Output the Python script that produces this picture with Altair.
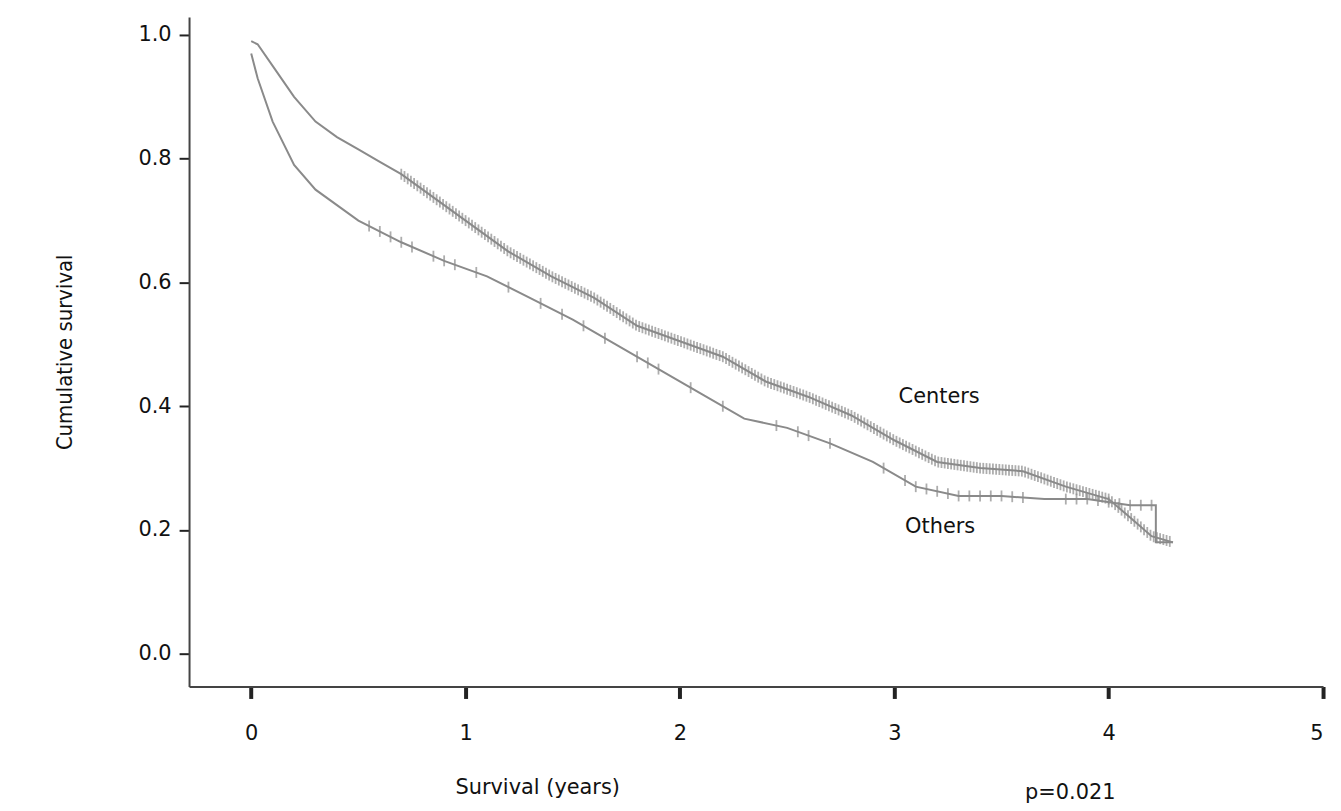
import numpy as np
import pandas as pd
import altair as alt

# Kaplan-Meier curves (years, cumulative survival)
centers_t = [0, 0.03, 0.1, 0.2, 0.3, 0.4, 0.5, 0.6, 0.7, 0.8, 0.9, 1.0, 1.2, 1.4, 1.6, 1.8, 2.0, 2.2,
             2.4, 2.6, 2.8, 3.0, 3.2, 3.4, 3.6, 3.8, 3.9, 4.0, 4.1, 4.2, 4.3]
centers_s = [0.99, 0.985, 0.95, 0.90, 0.86, 0.835, 0.815, 0.795, 0.775, 0.75, 0.725, 0.70, 0.65, 0.61,
             0.575, 0.53, 0.505, 0.48, 0.44, 0.415, 0.385, 0.345, 0.31, 0.30, 0.295, 0.27, 0.26, 0.25,
             0.22, 0.19, 0.18]
others_t = [0, 0.03, 0.1, 0.2, 0.3, 0.5, 0.7, 0.9, 1.1, 1.3, 1.5, 1.7, 1.9, 2.1, 2.3, 2.5, 2.7, 2.9,
            3.1, 3.3, 3.5, 3.7, 3.9, 4.1, 4.22, 4.22, 4.3]
others_s = [0.97, 0.93, 0.86, 0.79, 0.75, 0.70, 0.665, 0.635, 0.61, 0.575, 0.54, 0.50, 0.46, 0.42,
            0.38, 0.365, 0.34, 0.31, 0.27, 0.255, 0.255, 0.25, 0.25, 0.24, 0.24, 0.18, 0.18]

# censoring times (tick marks)
centers_cens = list(np.round(np.arange(0.7, 4.3, 0.015), 3))
others_cens = [0.55, 0.6, 0.65, 0.7, 0.75, 0.85, 0.9, 0.95, 1.05, 1.2, 1.35, 1.45, 1.55, 1.65, 1.8,
               1.85, 1.9, 2.05, 2.2, 2.45, 2.55, 2.6, 2.7, 2.95, 3.05, 3.1, 3.15, 3.2, 3.25, 3.3,
               3.35, 3.4, 3.45, 3.5, 3.55, 3.6, 3.8, 3.85, 3.9, 3.95, 4.0, 4.05, 4.1, 4.15, 4.2]

line_df = pd.concat([
    pd.DataFrame({"t": centers_t, "s": centers_s, "g": "Centers", "o": range(len(centers_t))}),
    pd.DataFrame({"t": others_t, "s": others_s, "g": "Others", "o": range(len(others_t))}),
])
cens_df = pd.concat([
    pd.DataFrame({"t": centers_cens, "s": np.interp(centers_cens, centers_t, centers_s)}),
    pd.DataFrame({"t": others_cens, "s": np.interp(others_cens, others_t[:24], others_s[:24])}),
])

xs = alt.Scale(domain=[-0.29, 5.0], nice=False, zero=False)
ys = alt.Scale(domain=[-0.053, 1.029], nice=False, zero=False)
F = "DejaVu Sans"

lines = alt.Chart(line_df).mark_line(color="#8a8a8a", strokeWidth=2).encode(
    x=alt.X("t:Q", scale=xs,
            axis=alt.Axis(values=[0, 1, 2, 3, 4, 5], format="d", title="Survival  (years)", tickSize=12,
                          tickWidth=4, tickColor="#222", labelPadding=24, labelFontSize=21,
                          titleFontSize=21, titlePadding=34, titleX=350, titleAlign="center",
                          titleFontWeight="normal",
                          grid=False, domainColor="#444", domainWidth=2, labelFont=F,
                          titleFont=F, labelColor="#111", titleColor="#111")),
    y=alt.Y("s:Q", scale=ys,
            axis=alt.Axis(values=[0, 0.2, 0.4, 0.6, 0.8, 1.0], format=".1f", title="Cumulative survival",
                          tickSize=10, tickWidth=2, tickColor="#222", labelFontSize=21, labelPadding=8,
                          titleFontSize=22, titlePadding=62, titleFontWeight="normal", grid=False,
                          domainColor="#444", domainWidth=2, labelFont=F,
                          titleFont="DejaVu Sans Condensed", labelColor="#111", titleColor="#111")),
    detail="g:N",
    order="o:Q",
)

ticks = alt.Chart(cens_df).mark_tick(color="#8a8a8a", thickness=1.8, size=11, orient="vertical").encode(
    x=alt.X("t:Q", scale=xs), y=alt.Y("s:Q", scale=ys)
)

labels_df = pd.DataFrame({"t": [3.02, 3.05, 3.61], "s": [0.415, 0.205, -0.225],
                          "txt": ["Centers", "Others", "p=0.021"]})
labels = alt.Chart(labels_df).mark_text(align="left", baseline="middle", fontSize=21, font=F,
                                        color="#111").encode(
    x=alt.X("t:Q", scale=xs), y=alt.Y("s:Q", scale=ys), text="txt:N"
)

chart = (lines + ticks + labels).properties(
    width=1140, height=673, autosize=alt.AutoSizeParams(type="none"),
    padding={"left": 182, "top": 7, "right": 10, "bottom": 115},
).configure_view(stroke=None)

chart.save("out.html", embed_options={"renderer": "svg", "actions": False})
